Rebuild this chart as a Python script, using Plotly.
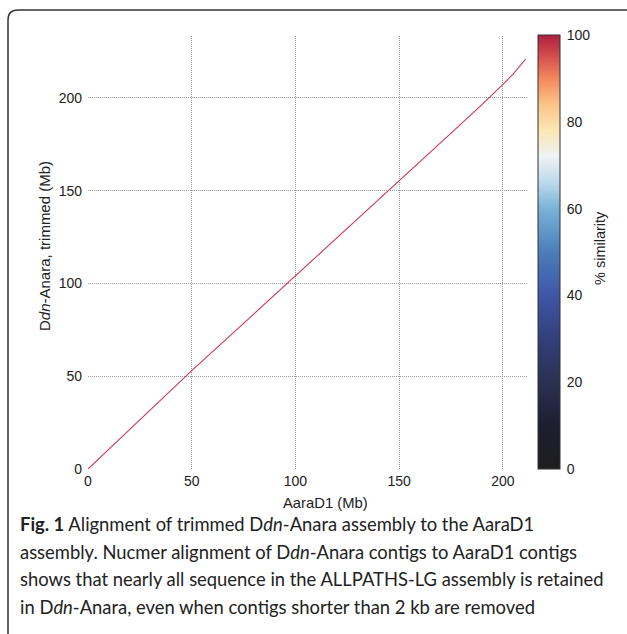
import plotly.graph_objects as go

# Alignment trace (AaraD1 Mb vs Ddn-Anara trimmed Mb)
aara_mb = [0, 25, 50, 75, 100, 125, 150, 175, 190, 195, 200, 205, 209, 211]
ddn_mb = [0, 26.5, 53, 78.5, 104, 129.5, 155, 181, 196.5, 201.8, 207.3, 213, 218, 221]

x_ticks = [0, 50, 100, 150, 200]
y_ticks = [0, 50, 100, 150, 200]
cbar_ticks = [0, 20, 40, 60, 80, 100]

caption_lines = [
    "<b>Fig. 1</b> Alignment of trimmed D<i>dn</i>-Anara assembly to the AaraD1",
    "assembly. Nucmer alignment of D<i>dn</i>-Anara contigs to AaraD1 contigs",
    "shows that nearly all sequence in the ALLPATHS-LG assembly is retained",
    "in D<i>dn</i>-Anara, even when contigs shorter than 2 kb are removed",
]

W, H = 627, 634
L, R, T, B = 88, 100, 36, 165
pw, ph = W - L - R, H - T - B

def px2paper_x(px):
    return (px - L) / pw

def py2paper_y(py):
    return (H - B - py) / ph

colorscale = [
    [0.0, "#1e1d1f"], [0.1, "#1d1e30"], [0.2, "#2a3152"], [0.3, "#323f7a"],
    [0.4, "#3f56a6"], [0.5, "#4c7db9"], [0.6, "#7ab2d8"], [0.66, "#bcd9ea"],
    [0.72, "#eef2f4"], [0.78, "#fbe6b4"], [0.84, "#fbc489"], [0.9, "#f3875d"],
    [0.95, "#d4504e"], [1.0, "#ad1f40"],
]

font = "Liberation Sans, Arial, Helvetica, sans-serif"

fig = go.Figure()
fig.add_trace(go.Scatter(
    x=aara_mb, y=ddn_mb, mode="lines",
    line=dict(color="#c93a55", width=1.1),
    hoverinfo="skip", showlegend=False,
))
fig.add_trace(go.Scatter(
    x=[None, None], y=[None, None], mode="markers",
    marker=dict(color=[0, 100], cmin=0, cmax=100, colorscale=colorscale,
                showscale=True,
                colorbar=dict(
                    x=px2paper_x(538), xanchor="left", xref="paper",
                    y=py2paper_y(469), yanchor="bottom", yref="paper",
                    len=(469 - 35) / ph, lenmode="fraction",
                    xpad=0, ypad=0,
                    thickness=22, thicknessmode="pixels",
                    outlinewidth=1, outlinecolor="#333",
                    tickvals=cbar_ticks, ticks="outside", ticklen=4,
                    tickcolor="rgba(0,0,0,0)",
                    tickfont=dict(family=font, size=14, color="#222"),
                )),
    showlegend=False, hoverinfo="skip",
))

grid = dict(showgrid=True, gridcolor="#999999", gridwidth=1, griddash="1px,1px",
            zeroline=False, showline=False, ticks="",
            tickfont=dict(family=font, size=14, color="#222"))
fig.update_xaxes(range=[0, 211.6], tickvals=x_ticks, ticklabelstandoff=2, **grid)
fig.update_yaxes(range=[0, 233.4], tickvals=y_ticks, ticklabelstandoff=5, **grid)

annotations = [
    dict(text="AaraD1 (Mb)", x=px2paper_x(325), y=py2paper_y(503), xref="paper", yref="paper",
         showarrow=False, font=dict(family=font, size=14.8, color="#222"),
         xanchor="center", yanchor="middle"),
    dict(text="D<i>dn</i>-Anara, trimmed (Mb)", x=px2paper_x(44), y=py2paper_y(246),
         xref="paper", yref="paper", showarrow=False, textangle=-90,
         font=dict(family=font, size=15, color="#222"),
         xanchor="center", yanchor="middle"),
    dict(text="% similarity", x=px2paper_x(600), y=py2paper_y(248),
         xref="paper", yref="paper", showarrow=False, textangle=-90,
         font=dict(family=font, size=14.5, color="#222"),
         xanchor="center", yanchor="middle"),
]
for i, line in enumerate(caption_lines):
    annotations.append(dict(
        text=line, x=px2paper_x(18), y=py2paper_y(524 + 27.7 * i),
        xref="paper", yref="paper", showarrow=False, align="left",
        xanchor="left", yanchor="middle",
        font=dict(family="Lato, sans-serif", size=18.4, color="#222"),
    ))

# rounded frame around the figure panel
x0, y0 = px2paper_x(8), py2paper_y(10)
x1, y1 = px2paper_x(660), py2paper_y(680)
rx, ry = 10 / pw, 10 / ph
path = (f"M {x0},{y1} L {x0},{y0 - ry} Q {x0},{y0} {x0 + rx},{y0} "
        f"L {x1},{y0}")
fig.add_shape(type="path", path=path, xref="paper", yref="paper",
              line=dict(color="#333", width=1.5), layer="above")

fig.update_layout(
    width=W, height=H, margin=dict(l=L, r=R, t=T, b=B, autoexpand=False),
    paper_bgcolor="white", plot_bgcolor="white",
    annotations=annotations,
)
fig.write_html("out.html", config={"displayModeBar": False},
               post_script="document.body.style.margin='0';")
